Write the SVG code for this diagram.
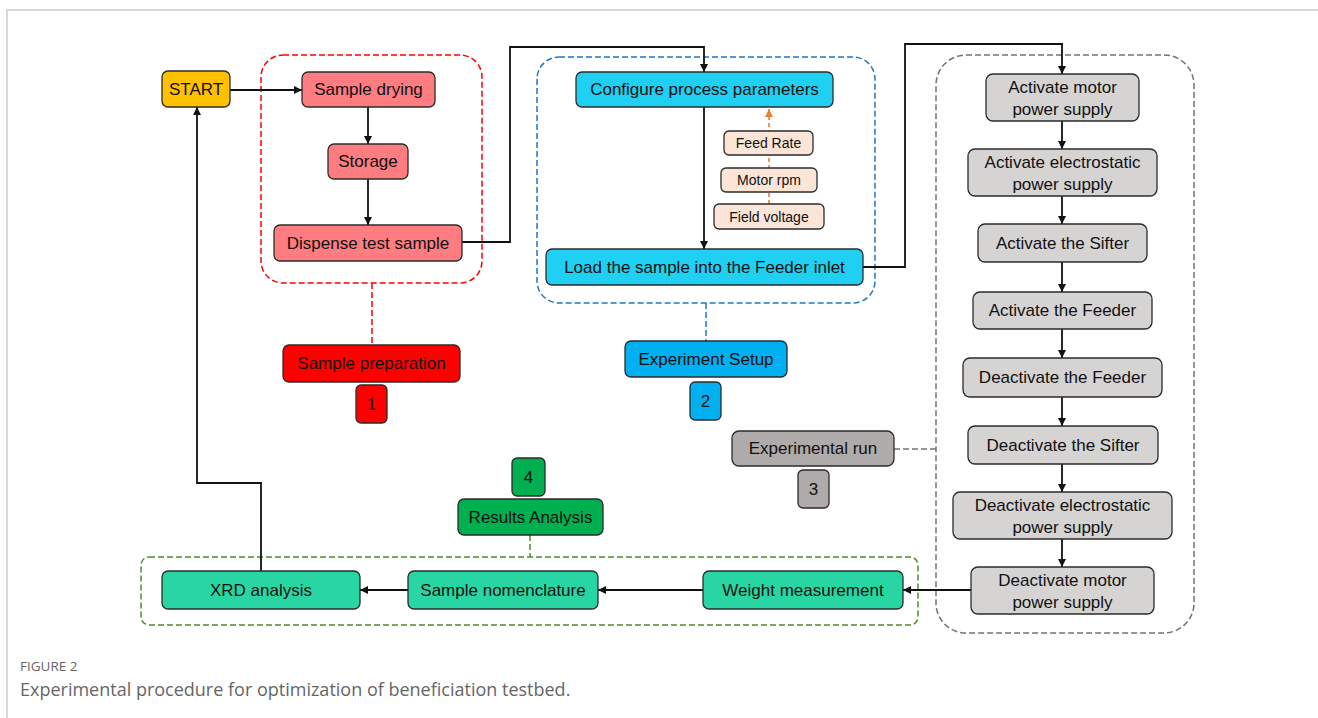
<svg xmlns="http://www.w3.org/2000/svg" width="1318" height="718" viewBox="0 0 1318 718">
<defs>
<marker id="ah" viewBox="0 0 10 10" refX="10" refY="5" markerWidth="8" markerHeight="8" markerUnits="userSpaceOnUse" orient="auto"><path d="M0,0 L10,5 L0,10 z" fill="#111"/></marker>
<marker id="ahO" viewBox="0 0 10 10" refX="10" refY="5" markerWidth="8" markerHeight="8" markerUnits="userSpaceOnUse" orient="auto"><path d="M0,0 L10,5 L0,10 z" fill="#ED7D31"/></marker>
<style>
.b{stroke:#2b2b2b;stroke-width:1.3}
.t{font-family:"Liberation Sans",Arial,sans-serif;font-size:17px;fill:#111;text-anchor:middle;dominant-baseline:central}
.s{font-size:14px}
.c{fill:none;stroke:#111;stroke-width:1.8}
.g{fill:none;stroke-width:1.5;stroke-dasharray:6 3}
.pink{fill:#FF7C80}.cyan{fill:#1FD0F2}.gray{fill:#D6D3D3}.dgray{fill:#AFABAB}.teal{fill:#27D6A2}.peach{fill:#FCE4D6}
</style>
</defs>
<rect width="1318" height="718" fill="#fff"/>
<path d="M7,718 V10 H1318" fill="none" stroke="#cccccc" stroke-width="1.5"/>

<g id="groups">
<rect x="261" y="55" width="221" height="228" rx="22" class="g" stroke="#FF0000"/>
<rect x="537" y="57" width="338" height="246" rx="22" class="g" stroke="#1F78C4"/>
<rect x="936" y="55" width="258" height="578" rx="30" class="g" stroke="#767171"/>
<rect x="141" y="557" width="777" height="68" rx="8" class="g" stroke="#4E8A2E"/>
</g>

<g id="connectors">
<path class="c" d="M230,90 H302" marker-end="url(#ah)"/>
<path class="c" d="M368,107 V144" marker-end="url(#ah)"/>
<path class="c" d="M368,179 V225" marker-end="url(#ah)"/>
<path class="c" d="M462,242 H510 V47 H704 V72" marker-end="url(#ah)"/>
<path class="c" d="M704,107 V249" marker-end="url(#ah)"/>
<path d="M769,204 V109" fill="none" stroke="#ED7D31" stroke-width="1.6" stroke-dasharray="4 3" marker-end="url(#ahO)"/>
<path class="c" d="M863,267 H905 V44 H1062 V74" marker-end="url(#ah)"/>
<path class="c" d="M1062,121 V149" marker-end="url(#ah)"/>
<path class="c" d="M1062,196 V224" marker-end="url(#ah)"/>
<path class="c" d="M1062,262 V292" marker-end="url(#ah)"/>
<path class="c" d="M1062,329 V358" marker-end="url(#ah)"/>
<path class="c" d="M1062,397 V426" marker-end="url(#ah)"/>
<path class="c" d="M1062,464 V492" marker-end="url(#ah)"/>
<path class="c" d="M1062,539 V567" marker-end="url(#ah)"/>
<path class="c" d="M971,590 H903" marker-end="url(#ah)"/>
<path class="c" d="M703,590 H598" marker-end="url(#ah)"/>
<path class="c" d="M408,590 H360" marker-end="url(#ah)"/>
<path class="c" d="M261,571 V483 H197 V107" marker-end="url(#ah)"/>
<path class="g" stroke="#FF0000" d="M372,283 V345"/>
<path class="g" stroke="#1F78C4" d="M706,303 V341"/>
<path class="g" stroke="#767171" d="M894,449 H936"/>
<path class="g" stroke="#4E8A2E" d="M530,535 V557"/>
</g>

<g id="start"><rect class="b" x="162" y="71" width="68" height="36" rx="6" fill="#FFC000"/><text class="t" x="196" y="89">START</text></g>
<g id="sample-drying"><rect class="b pink" x="302" y="72" width="133" height="35" rx="6"/><text class="t" x="368.5" y="89.5">Sample drying</text></g>
<g id="storage"><rect class="b pink" x="328" y="144" width="80" height="35" rx="6"/><text class="t" x="368" y="161.5">Storage</text></g>
<g id="dispense"><rect class="b pink" x="274" y="225" width="188" height="36" rx="6"/><text class="t" x="368" y="243">Dispense test sample</text></g>
<g id="sample-preparation"><rect class="b" x="283" y="345" width="177" height="37" rx="6" fill="#FF0000"/><text class="t" x="371.5" y="363.5">Sample preparation</text></g>
<g id="num1"><rect class="b" x="356" y="385" width="31" height="38" rx="5" fill="#FF0000"/><text class="t" x="371.5" y="404">1</text></g>

<g id="configure"><rect class="b cyan" x="576" y="72" width="257" height="35" rx="6"/><text class="t" x="704.5" y="89.5">Configure process parameters</text></g>
<g id="feed-rate"><rect class="b peach" x="724" y="131" width="89" height="24" rx="5"/><text class="t s" x="768.5" y="143">Feed Rate</text></g>
<g id="motor-rpm"><rect class="b peach" x="721" y="168" width="96" height="24" rx="5"/><text class="t s" x="769" y="180">Motor rpm</text></g>
<g id="field-voltage"><rect class="b peach" x="714" y="204" width="110" height="25" rx="5"/><text class="t s" x="769" y="216.5">Field voltage</text></g>
<g id="load"><rect class="b cyan" x="546" y="249" width="317" height="36" rx="6"/><text class="t" x="704.5" y="267">Load the sample into the Feeder inlet</text></g>
<g id="experiment-setup"><rect class="b" x="625" y="341" width="162" height="36" rx="6" fill="#00B0F0"/><text class="t" x="706" y="359">Experiment Setup</text></g>
<g id="num2"><rect class="b" x="690" y="382" width="31" height="38" rx="5" fill="#00B0F0"/><text class="t" x="705.5" y="401">2</text></g>

<g id="act-motor"><rect class="b gray" x="986" y="74" width="153" height="47" rx="7"/><text class="t" x="1062.5" y="87">Activate motor</text><text class="t" x="1062.5" y="109">power supply</text></g>
<g id="act-electro"><rect class="b gray" x="968" y="149" width="189" height="47" rx="7"/><text class="t" x="1062.5" y="162">Activate electrostatic</text><text class="t" x="1062.5" y="184">power supply</text></g>
<g id="act-sifter"><rect class="b gray" x="978" y="224" width="169" height="38" rx="7"/><text class="t" x="1062.5" y="243">Activate the Sifter</text></g>
<g id="act-feeder"><rect class="b gray" x="973" y="292" width="179" height="37" rx="7"/><text class="t" x="1062.5" y="310.5">Activate the Feeder</text></g>
<g id="deact-feeder"><rect class="b gray" x="963" y="358" width="199" height="39" rx="7"/><text class="t" x="1062.5" y="377.5">Deactivate the Feeder</text></g>
<g id="deact-sifter"><rect class="b gray" x="968" y="426" width="190" height="38" rx="7"/><text class="t" x="1063" y="445">Deactivate the Sifter</text></g>
<g id="deact-electro"><rect class="b gray" x="953" y="492" width="219" height="47" rx="7"/><text class="t" x="1062.5" y="505">Deactivate electrostatic</text><text class="t" x="1062.5" y="527">power supply</text></g>
<g id="deact-motor"><rect class="b gray" x="971" y="567" width="183" height="47" rx="7"/><text class="t" x="1062.5" y="580">Deactivate motor</text><text class="t" x="1062.5" y="602">power supply</text></g>
<g id="experimental-run"><rect class="b dgray" x="732" y="431" width="162" height="35" rx="7"/><text class="t" x="813" y="448.5">Experimental run</text></g>
<g id="num3"><rect class="b dgray" x="798" y="470" width="31" height="38" rx="5"/><text class="t" x="813.5" y="489">3</text></g>

<g id="xrd"><rect class="b teal" x="162" y="571" width="198" height="38" rx="6"/><text class="t" x="261" y="590">XRD analysis</text></g>
<g id="nomenclature"><rect class="b teal" x="408" y="571" width="190" height="38" rx="6"/><text class="t" x="503" y="590">Sample nomenclature</text></g>
<g id="weight"><rect class="b teal" x="703" y="571" width="200" height="38" rx="6"/><text class="t" x="803" y="590">Weight measurement</text></g>
<g id="results-analysis"><rect class="b" x="458" y="499" width="145" height="36" rx="6" fill="#00B050"/><text class="t" x="530.5" y="517">Results Analysis</text></g>
<g id="num4"><rect class="b" x="512" y="458" width="33" height="38" rx="5" fill="#00B050"/><text class="t" x="528.5" y="477">4</text></g>

<g id="caption" font-family="'Open Sans','Liberation Sans',sans-serif" fill="#666666">
<text x="20" y="671" font-size="13.5">FIGURE 2</text>
<text x="20" y="696" font-size="18">Experimental procedure for optimization of beneficiation testbed.</text>
</g>
</svg>
